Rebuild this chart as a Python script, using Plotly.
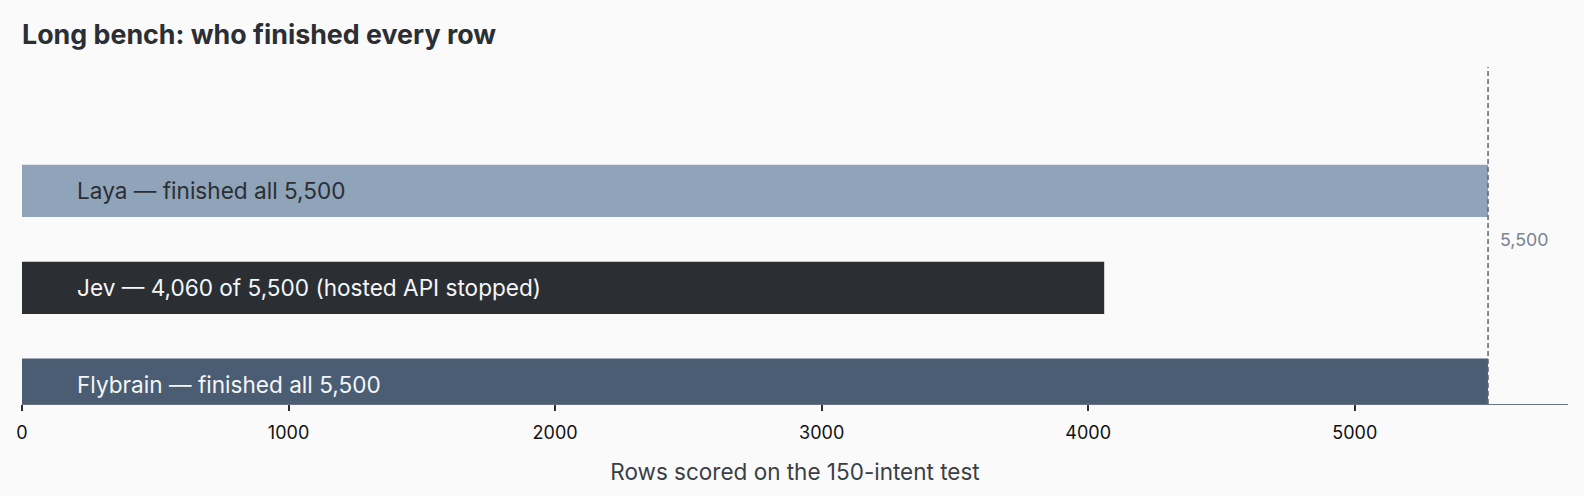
import plotly.graph_objects as go

# data
systems = ['Flybrain', 'Jev', 'Laya']
rows_scored = [5500, 4060, 5500]
bar_labels = ['Flybrain — finished all 5,500',
              'Jev — 4,060 of 5,500 (hosted API stopped)',
              'Laya — finished all 5,500']
bar_colors = ['#4a5d73', '#2b2f34', '#8fa3b9']
label_colors = ['#f4f6f8', '#f4f6f8', '#2b2f34']
total_rows = 5500

fig = go.Figure()
fig.add_trace(go.Bar(
    x=rows_scored, y=systems, orientation='h',
    marker=dict(color=bar_colors, line_width=0),
    width=0.54, hoverinfo='x+y', showlegend=False,
))

# labels sit inside each bar
for name, lab, col in zip(systems, bar_labels, label_colors):
    fig.add_annotation(x=200, y=name, text=lab, showarrow=False,
                       xanchor='left', yanchor='middle',
                       font=dict(size=22.6, color=col))

# dashed marker for the full run
fig.add_shape(type='line', x0=total_rows, x1=total_rows, y0=0, y1=1,
              xref='x', yref='paper',
              line=dict(color='#5f6673', width=1.5, dash='5px,3px'))
fig.add_annotation(x=total_rows, y=1.5, text=f'{total_rows:,}', showarrow=False,
                   xanchor='left', xshift=10, yanchor='middle',
                   font=dict(size=17.8, color='#7b8290'))

fig.update_layout(
    width=1600, height=501,
    paper_bgcolor='#fafafa', plot_bgcolor='#fafafa',
    font=dict(family='Inter, sans-serif', color='#2b2f34'),
    title=dict(text='<b>Long bench: who finished every row</b>',
               x=22 / 1600, xref='container', xanchor='left',
               y=0.9315, yref='container', yanchor='middle',
               font=dict(size=26.8, color='#2b2f34')),
    margin=dict(l=22, r=32, t=67, b=97),
)
fig.update_xaxes(range=[0, 5800], showgrid=False, zeroline=False,
                 showline=True, linecolor='#6b7280', linewidth=1.3,
                 ticks='outside', ticklen=6, tickcolor='#2b2f34', tickwidth=1.5,
                 ticklabelstandoff=6,
                 tickvals=[0, 1000, 2000, 3000, 4000, 5000],
                 tickfont=dict(size=18, color='#111111'),
                 title=dict(text='Rows scored on the 150-intent test',
                            font=dict(size=22.5, color='#3a3f45'), standoff=22))
fig.update_yaxes(range=[-0.2, 3.28], showticklabels=False, showgrid=False,
                 zeroline=False, showline=False, ticks='')

# drop the page's default body margin and scrollbars so the figure sits flush
page_fix = ("document.body.style.margin='0';"
            "document.body.style.overflow='hidden';"
            "document.documentElement.style.overflow='hidden';")
fig.write_html('out.html', post_script=page_fix,
               config={'displayModeBar': False})
